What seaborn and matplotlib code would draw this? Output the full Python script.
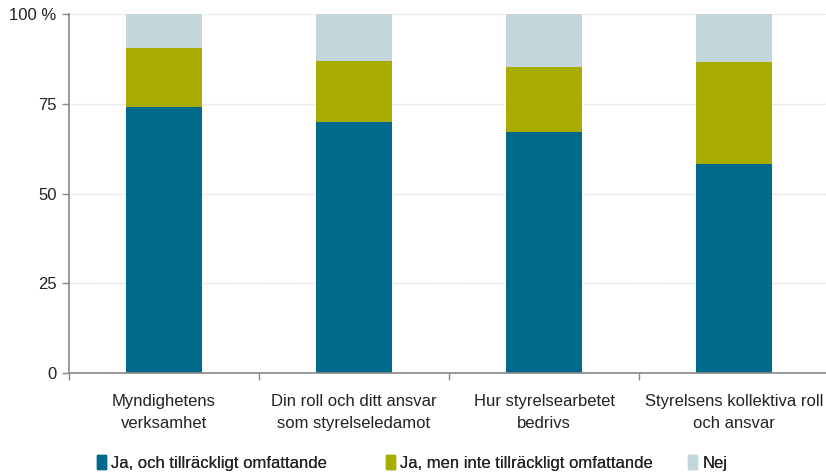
import numpy as np
import pandas as pd
import matplotlib
matplotlib.use("Agg")
import matplotlib.pyplot as plt
import seaborn as sns
from matplotlib.font_manager import fontManager

categories = [
    "Myndighetens\nverksamhet",
    "Din roll och ditt ansvar\nsom styrelseledamot",
    "Hur styrelsearbetet\nbedrivs",
    "Styrelsens kollektiva roll\noch ansvar",
]
ja_tillrackligt = [74.2, 70.0, 67.0, 58.3]
ja_inte_tillrackligt = [16.2, 17.0, 18.2, 28.3]
nej = [9.6, 13.0, 14.8, 13.4]

series_names = [
    "Ja, och tillräckligt omfattande",
    "Ja, men inte tillräckligt omfattande",
    "Nej",
]
colors = ["#006A8C", "#A8AC00", "#C3D6DC"]
y_ticks = [0, 25, 50, 75, 100]
y_ticklabels = ["0", "25", "50", "75", "100 %"]

sns.set_theme(style="white")
names = {f.name for f in fontManager.ttflist}
family = "Liberation Sans Narrow" if "Liberation Sans Narrow" in names else "Liberation Sans"
plt.rcParams["font.family"] = [family, "DejaVu Sans"]

df = pd.DataFrame({
    "kategori": categories,
    "s1": ja_tillrackligt,
    "s2": ja_inte_tillrackligt,
    "s3": nej,
})
df["c1"] = df["s1"]
df["c2"] = df["s1"] + df["s2"]
df["c3"] = df["s1"] + df["s2"] + df["s3"]

fig = plt.figure(figsize=(8.26, 4.75), dpi=100)
ax = fig.add_axes([69 / 826, 102 / 475, 760 / 826, 359 / 475])

# stacked bars drawn as cumulative layers, tallest first
for col, color in zip(["c3", "c2", "c1"], colors[::-1]):
    sns.barplot(data=df, x="kategori", y=col, color=color, width=0.4,
                saturation=1, ax=ax, zorder=3, edgecolor="none")

ax.set_xlim(-0.5, 3.5)
ax.set_ylim(0, 100)
ax.set_yticks(y_ticks)
ax.set_yticklabels(y_ticklabels, fontsize=12, color="#222222")
ax.set_xlabel("")
ax.set_ylabel("")
ax.set_xticks(range(len(categories)))
ax.set_xticklabels(categories, fontsize=12, color="#222222", linespacing=1.6)
ax.set_xticks(np.arange(-0.5, 3.6, 1.0), minor=True)
ax.tick_params(axis="x", which="major", length=0, pad=15)
ax.tick_params(axis="x", which="minor", length=5, width=1, color="#888888",
               direction="out", bottom=True)
ax.tick_params(axis="y", length=5, width=1, color="#888888", direction="out",
               left=True, pad=4)

for y in y_ticks[1:]:
    ax.axhline(y, color="#D9D9D9", lw=1, ls=(0, (1, 1)), zorder=1)

for side in ["top", "right"]:
    ax.spines[side].set_visible(False)
for side in ["left", "bottom"]:
    ax.spines[side].set_color("#888888")
    ax.spines[side].set_linewidth(1.2)
ax.spines["bottom"].set_zorder(4)

# legend entries placed individually along the bottom
legend_x = [97 / 826, 386 / 826, 688 / 826]
for name, color, x in zip(series_names, colors, legend_x):
    leg = fig.legend([plt.Rectangle((0, 0), 1, 1, color=color)], [name],
                     loc="center left", bbox_to_anchor=(x, 0.025),
                     frameon=False, fontsize=12, handlelength=0.55,
                     handleheight=0.9, handletextpad=0.3,
                     borderpad=0, borderaxespad=0, labelcolor="#222222")
    fig.add_artist(leg)

fig.savefig("out.png", dpi=100)
